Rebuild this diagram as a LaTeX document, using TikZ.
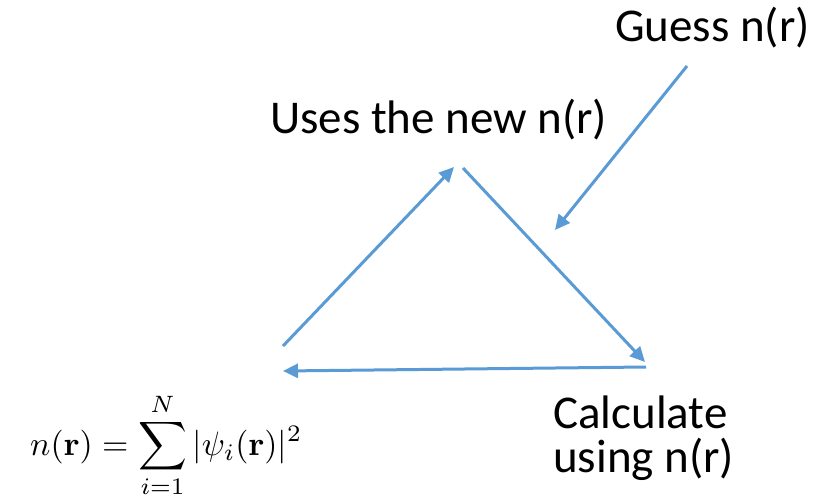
\documentclass[tikz,border=0pt]{standalone}
\usepackage[no-math]{fontspec}
\usepackage{graphicx}
\usetikzlibrary{arrows.meta}
\newfontfamily\lblfont{Carlito}
\definecolor{flowblue}{HTML}{5B9BD5}
\tikzset{
  lbl/.style={inner sep=0pt, anchor=base west, font=\lblfont\fontsize{47}{44}\selectfont},
  flow/.style={draw=flowblue, line width=3pt, -{Triangle[length=15pt,width=14pt]}}
}
\begin{document}
\begin{tikzpicture}[x=1pt,y=-1pt]
\useasboundingbox[fill=white] (0,0) rectangle (830,500);
\node[lbl] (guess) at (615,42) {Guess n(r)};
\node[lbl] (uses) at (270,134) {Uses the new n(r)};
\node[lbl] (calc) at (553,428) {Calculate};
\node[lbl] (calcb) at (553,472) {using n(r)};
\node[inner sep=0pt, anchor=base west] (formula) at (30,455)
  {\resizebox{272pt}{!}{$\displaystyle n(\mathbf{r}) = \sum_{i=1}^{N} |\psi_i(\mathbf{r})|^2$}};
\coordinate (lb) at (283,346);
\coordinate (tl) at (454,167);
\coordinate (tr) at (463,168);
\coordinate (rb) at (645,362);
\coordinate (rs) at (646,367);
\coordinate (le) at (283,371);
\coordinate (gs) at (687,66);
\coordinate (ge) at (555,230);
\draw[flow] (lb) -- (tl);
\draw[flow] (tr) -- (rb);
\draw[flow] (rs) -- (le);
\draw[flow] (gs) -- (ge);
\end{tikzpicture}
\end{document}
